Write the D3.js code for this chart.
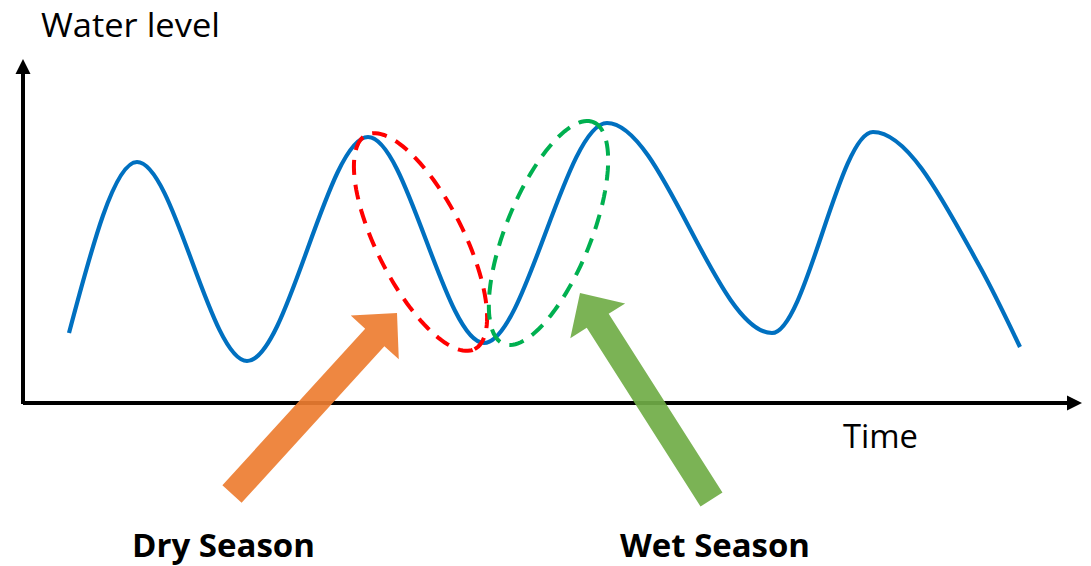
<!DOCTYPE html>
<html>
<head>
<meta charset="utf-8">
<script src="https://cdn.jsdelivr.net/npm/d3@7"></script>
<style>
  html, body { margin: 0; padding: 0; background: #ffffff; }
  svg { display: block; }
  text { font-family: "Open Sans", "Noto Sans", sans-serif; fill: #000; }
</style>
</head>
<body>
<svg id="chart" width="1091" height="566"></svg>
<script>
// ---- data (time, level in arbitrary units) ----
const waveTime  = [46, 114, 224, 345, 461, 584, 749, 850, 957, 997];
const waveLevel = [70, 241, 42, 266, 60, 280, 70, 271, 136, 56];

const axisLabels = { y: "Water level", x: "Time" };
const seasonNames = ["Dry Season", "Wet Season"];

// highlighted season ellipses: centre time, centre level, semi-axes, tilt (deg)
const ellipseNames   = ["dry", "wet"];
const ellipseTime    = [397.5, 525.5];
const ellipseLevel   = [161, 170];
const ellipseSemiA   = [120, 119.6];
const ellipseSemiB   = [43.5, 42.5];
const ellipseTilt    = [-63.2, 68];
const ellipseColors  = ["#FF0000", "#00B050"];

// block arrows pointing at the seasons: tail -> tip
const arrowTailTime  = [209, 688.5];
const arrowTailLevel = [-91, -96.5];
const arrowTipTime   = [374, 557];
const arrowTipLevel  = [90, 110];
const arrowColors    = ["#ED7D31", "#70AD47"];

// ---- layout ----
const svg = d3.select("#chart");
const x = d3.scaleLinear().domain([0, 1060]).range([23, 1083]);
const y = d3.scaleLinear().domain([0, 345]).range([403, 58]);

// axes
const axisG = svg.append("g");
axisG.append("line")
  .attr("x1", x(0)).attr("y1", y(0)).attr("x2", x(1045)).attr("y2", y(0))
  .attr("stroke", "#000").attr("stroke-width", 4);
axisG.append("line")
  .attr("x1", x(0)).attr("y1", y(-1)).attr("x2", x(0)).attr("y2", y(330))
  .attr("stroke", "#000").attr("stroke-width", 4);
axisG.append("path")
  .attr("d", `M${x(1059)},${y(0)} L${x(1044)},${y(0) - 7.5} L${x(1044)},${y(0) + 7.5} Z`)
  .attr("fill", "#000");
axisG.append("path")
  .attr("d", `M${x(0)},${y(344)} L${x(0) - 7.5},${y(329)} L${x(0) + 7.5},${y(329)} Z`)
  .attr("fill", "#000");

// wave
const wave = waveTime.map((t, i) => ({ t, v: waveLevel[i] }));
const line = d3.line().x(d => x(d.t)).y(d => y(d.v)).curve(d3.curveMonotoneX);
svg.append("path")
  .datum(wave)
  .attr("d", line)
  .attr("fill", "none")
  .attr("stroke", "#0070C0")
  .attr("stroke-width", 4.2);

// ellipses
ellipseNames.forEach((name, i) => {
  const cx = ellipseTime[i], cy = ellipseLevel[i];
  const a = ellipseSemiA[i], b = ellipseSemiB[i];
  const th = ellipseTilt[i] * Math.PI / 180;
  const pts = d3.range(0, 361, 3).map(deg => {
    const p = deg * Math.PI / 180;
    const dx = a * Math.cos(p), dy = b * Math.sin(p);
    return [cx + dx * Math.cos(th) - dy * Math.sin(th),
            cy + dx * Math.sin(th) + dy * Math.cos(th)];
  });
  svg.append("path")
    .datum(pts)
    .attr("d", d3.line().x(d => x(d[0])).y(d => y(d[1])).curve(d3.curveLinearClosed))
    .attr("fill", "none")
    .attr("stroke", ellipseColors[i])
    .attr("stroke-width", 4)
    .attr("stroke-dasharray", "15,10");
});

// block arrows
const shaftW = 26, headW = 65, headL = 33;
arrowColors.forEach((col, i) => {
  const x0 = x(arrowTailTime[i]), y0 = y(arrowTailLevel[i]);
  const x1 = x(arrowTipTime[i]), y1 = y(arrowTipLevel[i]);
  const len = Math.hypot(x1 - x0, y1 - y0);
  const ux = (x1 - x0) / len, uy = (y1 - y0) / len;
  const nx = -uy, ny = ux;
  const bx = x1 - ux * headL, by = y1 - uy * headL;
  const p = [
    [x0 + nx * shaftW / 2, y0 + ny * shaftW / 2],
    [bx + nx * shaftW / 2, by + ny * shaftW / 2],
    [bx + nx * headW / 2, by + ny * headW / 2],
    [x1, y1],
    [bx - nx * headW / 2, by - ny * headW / 2],
    [bx - nx * shaftW / 2, by - ny * shaftW / 2],
    [x0 - nx * shaftW / 2, y0 - ny * shaftW / 2]
  ];
  svg.append("path")
    .attr("d", "M" + p.map(q => q.join(",")).join("L") + "Z")
    .attr("fill", col)
    .attr("fill-opacity", 0.92);
});

// labels
svg.append("text").attr("x", 41).attr("y", 37)
  .attr("font-size", 32).attr("textLength", 179).attr("lengthAdjust", "spacingAndGlyphs")
  .text(axisLabels.y);
svg.append("text").attr("x", 843).attr("y", 448)
  .attr("font-size", 32).attr("textLength", 75).attr("lengthAdjust", "spacingAndGlyphs")
  .text(axisLabels.x);
const seasonX = [132, 620], seasonLen = [183, 190];
seasonNames.forEach((s, i) => {
  svg.append("text").attr("x", seasonX[i]).attr("y", 557)
    .attr("font-size", 32).attr("font-weight", "bold")
    .attr("textLength", seasonLen[i]).attr("lengthAdjust", "spacingAndGlyphs")
    .text(s);
});
</script>
</body>
</html>
